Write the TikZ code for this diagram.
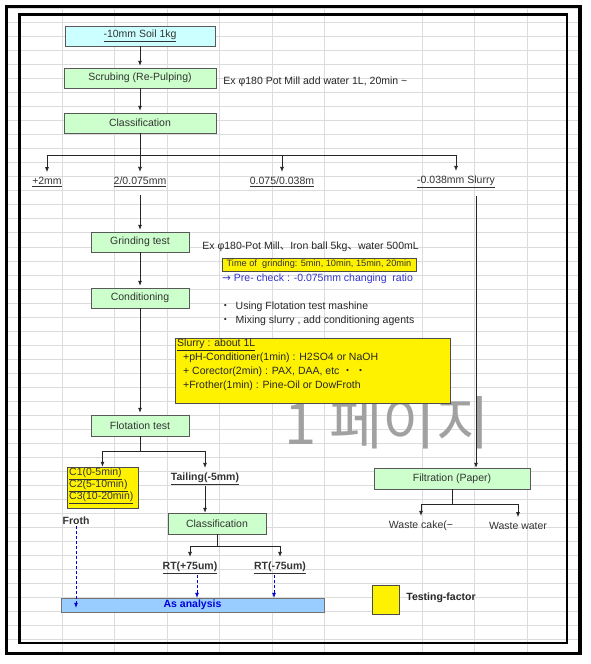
\documentclass[tikz,border=0pt]{standalone}
\usepackage{fontspec}
\setmainfont{Liberation Sans}
\newfontfamily\krfont{Noto Sans CJK KR}
\newfontfamily\symfont{DejaVu Sans}
\usetikzlibrary{arrows.meta,positioning}
\definecolor{boxgreen}{HTML}{CCFFCC}
\definecolor{boxcyan}{HTML}{CCFFFF}
\definecolor{boxblue}{HTML}{99CCFF}
\definecolor{gridgray}{HTML}{DCDCDC}
\definecolor{txtgray}{HTML}{333333}
\definecolor{markblue}{HTML}{3333CC}
\tikzstyle{stage}=[rectangle,draw=black!65,fill=boxgreen,inner sep=0pt,text=txtgray,font=\fontsize{10.5}{12}\selectfont]
\tikzstyle{factor}=[rectangle,draw=black!70,fill=yellow,inner sep=0pt]
\tikzstyle{lbl}=[inner sep=1pt,text=txtgray,font=\fontsize{10.5}{12}\selectfont]
\tikzstyle{boldlbl}=[lbl,font=\bfseries\fontsize{10.5}{12}\selectfont]
\tikzstyle{note}=[anchor=west,inner sep=0pt,text=black!85,font=\fontsize{10.5}{12}\selectfont]
\tikzstyle{link}=[draw=black!85,line width=0.8pt]
\tikzstyle{edge}=[link,-{Latex[length=5pt,width=4pt]},shorten >=2pt]
\tikzstyle{probe}=[-{Latex[length=5pt,width=4pt]},draw=blue!85!black,densely dashed,line width=0.7pt]

\begin{document}
\begin{tikzpicture}[x=1pt,y=-1pt]
        \useasboundingbox (0,0) rectangle (591,664);
        \fill[white] (0,0) rectangle (591,664);
        % sheet grid
        \foreach \gx in {62,114,167,219,272,324,422,474,527}
          \draw[gridgray,line width=0.6pt] (\gx,7) -- (\gx,652);
        \foreach \k in {0,...,45}
          \draw[gridgray,line width=0.6pt] (7,{8.3+14.03*\k}) -- (579,{8.3+14.03*\k});
        \draw[line width=3.5pt] (6.3,6.3) rectangle (580,653.5);
        \draw[line width=2.4pt] (19.5,14.5) rectangle (566.7,642.8);
        \node [anchor=base west,inner sep=0pt,text=black!37,font=\krfont\fontsize{58}{60}\selectfont] (wm) at (284,444) {1 페이지};

        % main line
        \node [stage,fill=boxcyan,minimum width=150pt,minimum height=20pt] (soil) at (140,36) {\underline{-10mm Soil 1kg}};
        \node [stage,minimum width=152pt,minimum height=20pt] (scrub) at (140,78) {Scrubing (Re-Pulping)};
        \node [note,right=7pt of scrub,yshift=-4pt] (scrubnote) {Ex φ180 Pot Mill add water 1L, 20min \textasciitilde};
        \node [stage,minimum width=152pt,minimum height=20pt] (classA) at (140,123) {Classification};

        \node [lbl] (l1) at (47,182) {\underline{+2mm}};
        \node [lbl] (l2) at (140,182) {\underline{2/0.075mm}};
        \node [lbl] (l3) at (282,182) {\underline{0.075/0.038m}};
        \node [lbl] (l4) at (456,182) {\underline{-0.038mm Slurry}};

        \node [stage,minimum width=98pt,minimum height=20pt] (grind) at (140,242) {Grinding test};
        \node [note,right=13pt of grind,yshift=-5pt] (grindnote) {Ex φ180-Pot Mill{\krfont 、}Iron ball 5kg{\krfont 、}water 500mL};
        \node [factor,minimum width=194pt,minimum height=13pt,text=txtgray,font=\fontsize{9.2}{10}\selectfont] (grindtime) at (319,264.5) {Time of \ grinding: 5min, 10min, 15min, 20min};
        \node [note,text=markblue] (precheck) at (222,279) {{\symfont →} Pre- check : -0.075mm changing \ ratio};

        \node [stage,minimum width=98pt,minimum height=20pt] (cond) at (140,298) {Conditioning};
        \node [note] (use) at (220,307) {{\krfont ・}\hspace{5pt}Using Flotation test mashine};
        \node [note] (mix) at (220,321) {{\krfont ・}\hspace{5pt}Mixing slurry , add conditioning agents};

        \node [factor,minimum width=275pt,minimum height=65pt] (slurry) at (312.5,370.5) {};
        \node [anchor=north west,inner sep=0pt,align=left,text=black!85,font=\fontsize{10.5}{14}\selectfont] (slurrytxt) at (177,339)
          {\underline{Slurry : about 1L}\\\hspace*{6pt}+pH-Conditioner(1min) : H2SO4 or NaOH\\\hspace*{6pt}+ Corector(2min) : PAX, DAA, etc {\krfont ・ ・}\\\hspace*{6pt}+Frother(1min) : Pine-Oil or DowFroth};

        \node [stage,minimum width=98pt,minimum height=21pt] (flot) at (140,425.5) {Flotation test};
        \node [factor,minimum width=71pt,minimum height=41pt] (cbox) at (102.5,487.5) {};
        \node [anchor=north west,inner sep=0pt,align=left,text=txtgray,font=\fontsize{10.5}{12}\selectfont] (ctimes) at (69,468)
          {\underline{C1(0-5min)}\\\underline{C2(5-10min)}\\\underline{C3(10-20min)}};
        \node [boldlbl] (tail) at (205,479) {\underline{Tailing(-5mm)}};
        \node [boldlbl] (froth) at (76,521) {Froth};
        \node [stage,minimum width=98pt,minimum height=21pt] (classB) at (217,523.5) {Classification};
        \node [boldlbl] (rtp) at (190,568) {\underline{RT(+75um)}};
        \node [boldlbl] (rtm) at (280,568) {\underline{RT(-75um)}};
        \node [rectangle,draw=black!55,fill=boxblue,minimum width=263pt,minimum height=14pt,inner sep=0pt,text=blue!85!black,font=\bfseries\fontsize{10.5}{12}\selectfont] (ana) at (192.5,605) {As analysis};

        % slurry side
        \node [stage,minimum width=156pt,minimum height=21pt] (filt) at (452,478.5) {Filtration (Paper)};
        \node [lbl] (cake) at (421,526) {Waste cake(−};
        \node [lbl] (water) at (518,526) {Waste water};

        \node [factor,minimum width=27pt,minimum height=29pt] (legend) at (385.5,599.5) {};
        \node [note,font=\bfseries\fontsize{10.5}{12}\selectfont,right=7pt of legend,yshift=1.5pt] (legendtxt) {Testing-factor};

        \coordinate (fork1) at (140,155);
        \coordinate (fork2) at (140,451);
        \coordinate (fork3) at (217,546);
        \coordinate (fork4) at (452,504);
        \coordinate (drop) at (476,196);

        \path [edge] (soil) -- (scrub);
        \path [edge] (scrub) -- (classA);
        \path [link] (classA) -- (fork1);
        \path [link] (fork1 -| l1) -- (fork1 -| l4);
        \foreach \v in {l1,l2,l3,l4}
          \path [edge,shorten >=4pt] (fork1 -| \v) -- (\v);
        \path [edge,shorten <=7pt] (l2) -- (grind);
        \path [edge] (grind) -- (cond);
        \path [edge] (cond) -- (flot);
        \path [link] (flot) -- (fork2);
        \path [link] (fork2 -| cbox) -- (fork2 -| tail);
        \path [edge,shorten >=0pt] (fork2 -| cbox) -- (cbox);
        \path [edge,shorten >=4pt] (fork2 -| tail) -- (tail);
        \path [edge,shorten >=0pt] (tail) -- (tail |- classB.north);
        \path [link] (classB) -- (fork3);
        \path [link] (fork3 -| rtp) -- (fork3 -| rtm);
        \path [edge,shorten >=4pt] (fork3 -| rtp) -- (rtp);
        \path [edge,shorten >=4pt] (fork3 -| rtm) -- (rtm);
        \path [probe] (froth.south) -- ([yshift=-10pt]froth.south |- ana.north);
        \path [probe] ([xshift=7pt]rtp.south) -- ([xshift=7pt]rtp.south |- ana.north);
        \path [probe] ([xshift=-6pt]rtm.south) -- ([xshift=-6pt]rtm.south |- ana.north);
        \path [edge,shorten >=0pt] (drop) -- (drop |- filt.north);
        \path [link] (filt) -- (fork4);
        \path [link] (fork4 -| cake) -- (fork4 -| water);
        \path [edge,shorten >=4pt] (fork4 -| cake) -- (cake);
        \path [edge,shorten >=4pt] (fork4 -| water) -- (water);
      \end{tikzpicture}
\end{document}
